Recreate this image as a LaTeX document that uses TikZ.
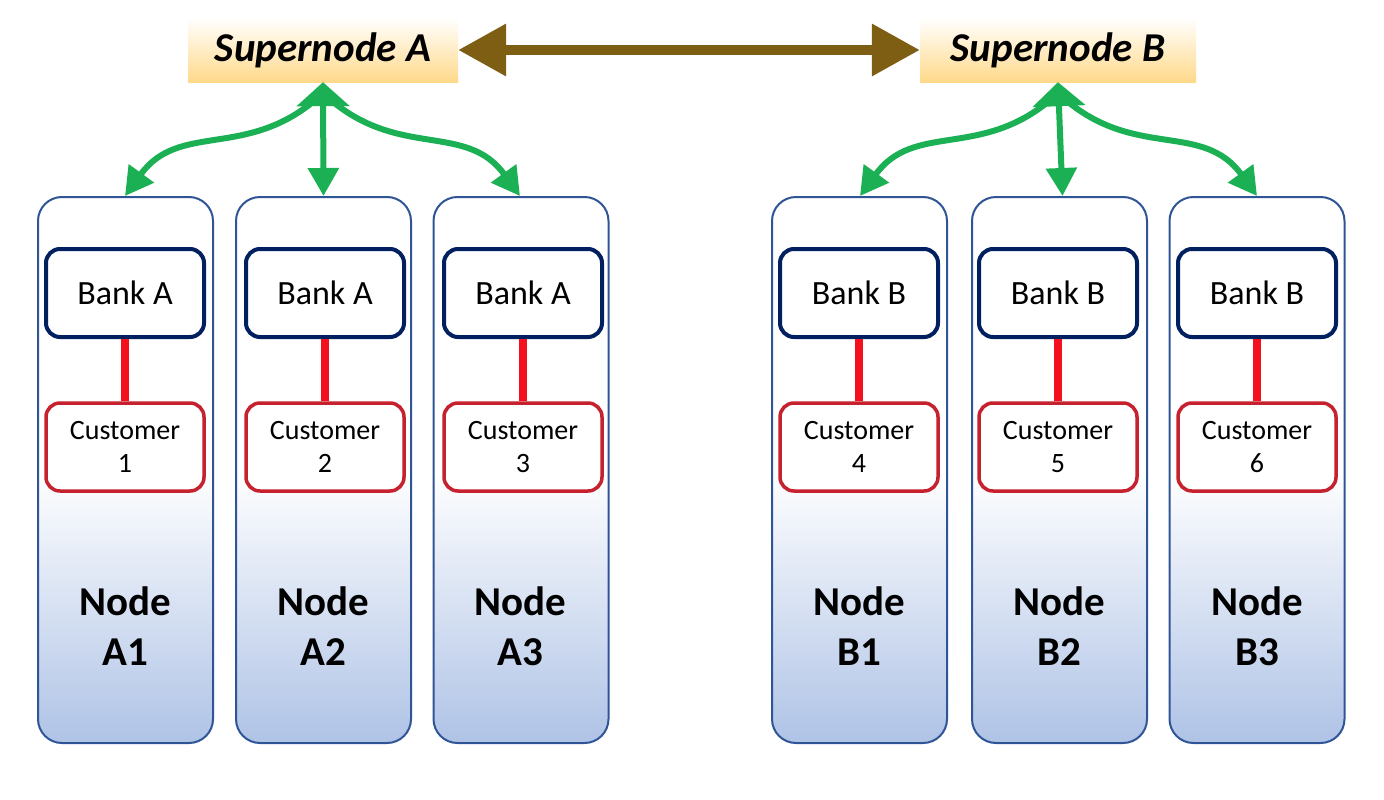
\documentclass[tikz,border=0pt]{standalone}
\usepackage{fontspec}
\setmainfont{Carlito}
\usetikzlibrary{arrows.meta}
\definecolor{supgold}{HTML}{FFD98A}
\definecolor{colblue}{HTML}{2F5597}
\definecolor{colfill}{HTML}{AFC3E6}
\definecolor{banknavy}{HTML}{002060}
\definecolor{custred}{HTML}{C5212E}
\definecolor{linkred}{HTML}{F5101E}
\definecolor{syncgreen}{HTML}{1CB054}
\definecolor{peerbrown}{HTML}{7E5E13}
\tikzset{
  supernode/.style = {shape=rectangle, inner sep=0pt,
                      minimum height=64pt,
                      top color=white, bottom color=supgold,
                      font=\fontsize{41}{49}\selectfont\bfseries\itshape},
  column/.style    = {shape=rectangle, rounded corners=24pt,
                      draw=colblue, line width=2pt,
                      minimum width=175pt, minimum height=546pt,
                      top color=white, bottom color=colfill, middle color=white},
  bank/.style      = {shape=rectangle, rounded corners=14pt,
                      draw=banknavy, line width=4pt, fill=white,
                      minimum width=158pt, minimum height=88pt,
                      font=\fontsize{34}{41}\selectfont},
  customer/.style  = {bank, draw=custred, line width=3.5pt, align=center,
                      font=\fontsize{28}{33}\selectfont},
  colname/.style   = {align=center, font=\fontsize{41}{50}\selectfont\bfseries},
  link/.style      = {draw=linkred, line width=8pt},
  sync/.style      = {draw=syncgreen, line width=6pt,
                      arrows={-Triangle[width=30pt,length=28pt]}},
  synchub/.style   = {sync,
                      arrows={Triangle[width=52pt,length=24pt]-Triangle[width=30pt,length=28pt]}},
  peer/.style      = {draw=peerbrown, line width=10pt,
                      >={Triangle[width=50pt,length=48pt]}, <->}
}
\begin{document}
\begin{tikzpicture}[x=1pt, y=-1pt]
  \useasboundingbox (0,0) rectangle (1384,800);

  % supernodes
  \node[supernode, minimum width=270pt] (supA) at (323,50) {Supernode A};
  \node[supernode, minimum width=276pt] (supB) at (1058,50) {Supernode B};
  \coordinate (hubA) at ([yshift=-18pt]supA.south);
  \coordinate (hubB) at ([yshift=-18pt]supB.south);

  % columns of bank A
  \node[column] (colA1) at (125.5,470) {};
  \node[column] (colA2) at (323.5,470) {};
  \node[column] (colA3) at (521,470) {};
  % columns of bank B
  \node[column] (colB1) at (859.5,470) {};
  \node[column] (colB2) at (1059.5,470) {};
  \node[column] (colB3) at (1257,470) {};

  \node[bank] (bankA1) at (125,293) {Bank A};
  \node[bank] (bankA2) at (325,293) {Bank A};
  \node[bank] (bankA3) at (523,293) {Bank A};
  \node[bank] (bankB1) at (859,293) {Bank B};
  \node[bank] (bankB2) at (1058,293) {Bank B};
  \node[bank] (bankB3) at (1257,293) {Bank B};

  \node[customer] (custA1) at (125,447) {Customer\\1};
  \node[customer] (custA2) at (325,447) {Customer\\2};
  \node[customer] (custA3) at (523,447) {Customer\\3};
  \node[customer] (custB4) at (859,447) {Customer\\4};
  \node[customer] (custB5) at (1058,447) {Customer\\5};
  \node[customer] (custB6) at (1257,447) {Customer\\6};

  \node[colname] (nameA1) at (125,626) {Node\\A1};
  \node[colname] (nameA2) at (323,626) {Node\\A2};
  \node[colname] (nameA3) at (520,626) {Node\\A3};
  \node[colname] (nameB1) at (859,626) {Node\\B1};
  \node[colname] (nameB2) at (1059,626) {Node\\B2};
  \node[colname] (nameB3) at (1257,626) {Node\\B3};

  % bank -- customer
  \draw[link] (bankA1) -- (custA1);
  \draw[link] (bankA2) -- (custA2);
  \draw[link] (bankA3) -- (custA3);
  \draw[link] (bankB1) -- (custB4);
  \draw[link] (bankB2) -- (custB5);
  \draw[link] (bankB3) -- (custB6);

  % supernode -- nodes
  \draw[sync] ([xshift=-8pt]hubA) to[out=-140, in=54, looseness=1.1] ([xshift=-0.5pt]colA1.north);
  \draw[sync] ([xshift=8pt]hubA) to[out=-40, in=126, looseness=1.1] ([xshift=-1pt]colA3.north);
  \draw[synchub] (supA.south) -- (colA2.north);
  \draw[sync] ([xshift=-8pt]hubB) to[out=-140, in=54, looseness=1.1] ([xshift=0.5pt]colB1.north);
  \draw[sync] ([xshift=8pt]hubB) to[out=-40, in=126, looseness=1.1] (colB3.north);
  \draw[synchub] (supB.south) -- ([xshift=3pt]colB2.north);

  % supernode -- supernode
  \draw[peer] (supA.east) -- (supB.west);
\end{tikzpicture}
\end{document}
